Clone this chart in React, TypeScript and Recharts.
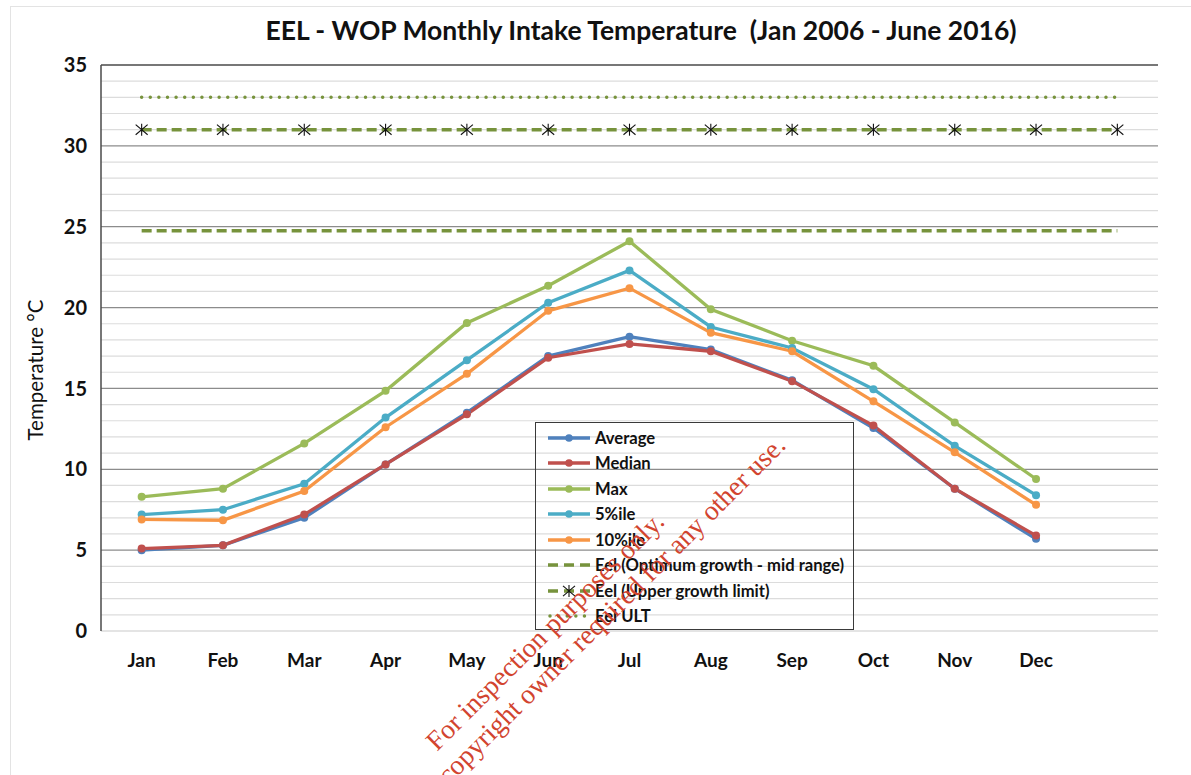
import React from "react";
import { ComposedChart, Line, XAxis, YAxis, ReferenceLine } from "recharts";

// categories (13th slot is empty, the eel limit lines run into it)
const months = ["Jan", "Feb", "Mar", "Apr", "May", "Jun", "Jul", "Aug", "Sep", "Oct", "Nov", "Dec", ""];

// monthly intake temperature, °C
const average = [5.0, 5.3, 7.0, 10.3, 13.5, 17.0, 18.2, 17.4, 15.5, 12.55, 8.8, 5.7];
const median = [5.1, 5.3, 7.2, 10.3, 13.4, 16.9, 17.75, 17.3, 15.45, 12.7, 8.8, 5.9];
const maxTemp = [8.3, 8.8, 11.6, 14.85, 19.05, 21.35, 24.1, 19.9, 17.95, 16.4, 12.9, 9.4];
const pct5 = [7.2, 7.5, 9.1, 13.2, 16.75, 20.3, 22.3, 18.8, 17.5, 14.95, 11.45, 8.4];
const pct10 = [6.9, 6.85, 8.65, 12.6, 15.9, 19.8, 21.2, 18.45, 17.3, 14.2, 11.05, 7.8];

// eel reference limits
const eelOptimum = [24.75, 24.75, 24.75, 24.75, 24.75, 24.75, 24.75, 24.75, 24.75, 24.75, 24.75, 24.75, 24.75];
const eelUpper = [31, 31, 31, 31, 31, 31, 31, 31, 31, 31, 31, 31, 31];
const eelUlt = [33, 33, 33, 33, 33, 33, 33, 33, 33, 33, 33, 33, 33];

const yTicks = [0, 5, 10, 15, 20, 25, 30, 35];
const gridValues = Array.from({ length: 36 }, (_, i) => i);

const FONT = "Lato, 'Open Sans', sans-serif";

type Kind = "solid" | "dash" | "dashStar" | "dot";

const series: { key: string; name: string; color: string; kind: Kind }[] = [
  { key: "average", name: "Average", color: "#4F81BD", kind: "solid" },
  { key: "median", name: "Median", color: "#C0504D", kind: "solid" },
  { key: "max", name: "Max", color: "#9BBB59", kind: "solid" },
  { key: "pct5", name: "5%ile", color: "#4BACC6", kind: "solid" },
  { key: "pct10", name: "10%ile", color: "#F79646", kind: "solid" },
  { key: "optimum", name: "Eel (Optimum growth - mid range)", color: "#77933C", kind: "dash" },
  { key: "upper", name: "Eel (Upper growth limit)", color: "#77933C", kind: "dashStar" },
  { key: "ult", name: "Eel ULT", color: "#77933C", kind: "dot" },
];

const chartData = months.map((m, i) => ({
  month: m,
  average: average[i],
  median: median[i],
  max: maxTemp[i],
  pct5: pct5[i],
  pct10: pct10[i],
  optimum: eelOptimum[i],
  upper: eelUpper[i],
  ult: eelUlt[i],
}));

/** black asterisk marker used on the upper growth limit line */
function Asterisk({ cx, cy, size = 6 }: { cx?: number; cy?: number; size?: number }) {
  if (cx == null || cy == null) return null;
  const d = size * 0.85;
  return (
    <g stroke="#111" strokeWidth={1.1}>
      <line x1={cx} y1={cy - size} x2={cx} y2={cy + size} />
      <line x1={cx - size} y1={cy - d} x2={cx + size} y2={cy + d} />
      <line x1={cx - size} y1={cy + d} x2={cx + size} y2={cy - d} />
    </g>
  );
}

function LegendIcon({ color, kind }: { color: string; kind: Kind }) {
  return (
    <svg width={44} height={14} style={{ display: "block" }}>
      {kind === "solid" && (
        <>
          <line x1={0} y1={7} x2={42} y2={7} stroke={color} strokeWidth={3.3} />
          <circle cx={21} cy={7} r={3.8} fill={color} />
        </>
      )}
      {kind === "dash" && (
        <line x1={0} y1={7} x2={42} y2={7} stroke={color} strokeWidth={3.5} strokeDasharray="10 6" />
      )}
      {kind === "dashStar" && (
        <>
          <line x1={0} y1={7} x2={42} y2={7} stroke={color} strokeWidth={3.5} strokeDasharray="10 6" />
          <Asterisk cx={21} cy={7} size={6} />
        </>
      )}
      {kind === "dot" && (
        <line x1={2} y1={7} x2={42} y2={7} stroke={color} strokeWidth={3.5} strokeDasharray="0.01 8.6" strokeLinecap="round" />
      )}
    </svg>
  );
}

function ChartLegend() {
  return (
    <div
      style={{
        position: "absolute",
        left: 535,
        top: 422,
        width: 319,
        height: 208,
        boxSizing: "border-box",
        border: "1.5px solid #3a3a3a",
        paddingTop: 2,
        fontFamily: FONT,
        fontWeight: 700,
        fontSize: 16.6,
        color: "#111",
      }}
    >
      {series.map((s) => (
        <div key={s.key} style={{ display: "flex", alignItems: "center", height: 25.5, paddingLeft: 12 }}>
          <LegendIcon color={s.color} kind={s.kind} />
          <span style={{ marginLeft: 3, whiteSpace: "nowrap", lineHeight: "20px" }}>{s.name}</span>
        </div>
      ))}
    </div>
  );
}

export default function App() {
  return (
    <div
      style={{
        position: "absolute",
        left: 0,
        top: 0,
        width: 1191,
        height: 775,
        overflow: "hidden",
        background: "#fff",
      }}
    >
      {/* outer chart frame (only top and left edges are in view) */}
      <div
        style={{
          position: "absolute",
          left: 10,
          top: 6,
          width: 1300,
          height: 900,
          borderTop: "1.5px solid #e3e3e3",
          borderLeft: "1.5px solid #e3e3e3",
        }}
      />

      <div
        style={{
          position: "absolute",
          left: 641,
          top: 14,
          transform: "translateX(-50%)",
          whiteSpace: "pre",
          fontFamily: FONT,
          fontWeight: 700,
          fontSize: 26.5,
          color: "#111",
        }}
      >
        {"EEL - WOP Monthly Intake Temperature  (Jan 2006 - June 2016)"}
      </div>

      <div
        style={{
          position: "absolute",
          left: 35,
          top: 370,
          transform: "translate(-50%, -50%) rotate(-90deg)",
          whiteSpace: "nowrap",
          fontFamily: FONT,
          fontSize: 20.5,
          color: "#111",
        }}
      >
        Temperature °C
      </div>

      <div style={{ position: "absolute", left: 0, top: 0 }}>
        <ComposedChart
          width={1191}
          height={775}
          data={chartData}
          margin={{ top: 65, right: 33, bottom: 104, left: 41 }}
        >
          {gridValues.map((v) => (
            <ReferenceLine
              key={`g${v}`}
              y={v}
              stroke={v === 35 ? "#4a4a4a" : v % 5 === 0 && v > 0 ? "#8c8c8c" : "#dcdcdc"}
              strokeWidth={v === 35 ? 1.5 : 1.2}
              ifOverflow="extendDomain"
            />
          ))}
          <XAxis
            dataKey="month"
            scale="band"
            height={40}
            tickLine={false}
            tickSize={0}
            tickMargin={23}
            axisLine={{ stroke: "#dcdcdc", strokeWidth: 1.2 }}
            interval={0}
            tick={{ fontFamily: FONT, fontWeight: 700, fontSize: 19, fill: "#111" }}
          />
          <YAxis
            width={60}
            domain={[0, 35]}
            ticks={yTicks}
            interval={0}
            tickLine={false}
            tickSize={0}
            tickMargin={14}
            axisLine={{ stroke: "#4a4a4a", strokeWidth: 1.5 }}
            tick={{ fontFamily: FONT, fontWeight: 700, fontSize: 20, fill: "#111" }}
          />
          <YAxis
            yAxisId="frame"
            orientation="right"
            width={0}
            domain={[0, 35]}
            tick={false}
            tickLine={false}
            axisLine={{ stroke: "#4a4a4a", strokeWidth: 1.5 }}
          />

          <Line
            dataKey="ult"
            name="Eel ULT"
            stroke="#77933C"
            strokeWidth={3.5}
            strokeDasharray="0.01 8.6"
            strokeLinecap="round"
            dot={false}
            activeDot={false}
            isAnimationActive={false}
          />
          <Line
            dataKey="optimum"
            name="Eel (Optimum growth - mid range)"
            stroke="#77933C"
            strokeWidth={3.5}
            strokeDasharray="10 5"
            dot={false}
            activeDot={false}
            isAnimationActive={false}
          />
          <Line
            dataKey="upper"
            name="Eel (Upper growth limit)"
            stroke="#77933C"
            strokeWidth={3.5}
            strokeDasharray="10 5"
            dot={(p: any) => <Asterisk key={`a${p.index}`} cx={p.cx} cy={p.cy} />}
            activeDot={false}
            isAnimationActive={false}
          />

          {series
            .filter((s) => s.kind === "solid")
            .map((s) => (
              <Line
                key={s.key}
                dataKey={s.key}
                name={s.name}
                stroke={s.color}
                strokeWidth={3.3}
                dot={{ r: 4, fill: s.color, stroke: s.color, strokeWidth: 0 }}
                activeDot={false}
                isAnimationActive={false}
              />
            ))}
        </ComposedChart>
      </div>

      <ChartLegend />

      {/* inspection watermark */}
      <svg
        width={1191}
        height={775}
        style={{ position: "absolute", left: 0, top: 0, pointerEvents: "none" }}
      >
        <g fontFamily="'Liberation Serif', 'DejaVu Serif', serif" fontSize={27.5} fill="#D2442F">
          <text x={437} y={752} transform="rotate(-45 437 752)">
            For inspection purposes only.
          </text>
          <text x={787} y={447} textAnchor="end" transform="rotate(-45 787 447)">
            Consent of copyright owner required for any other use.
          </text>
        </g>
      </svg>
    </div>
  );
}
